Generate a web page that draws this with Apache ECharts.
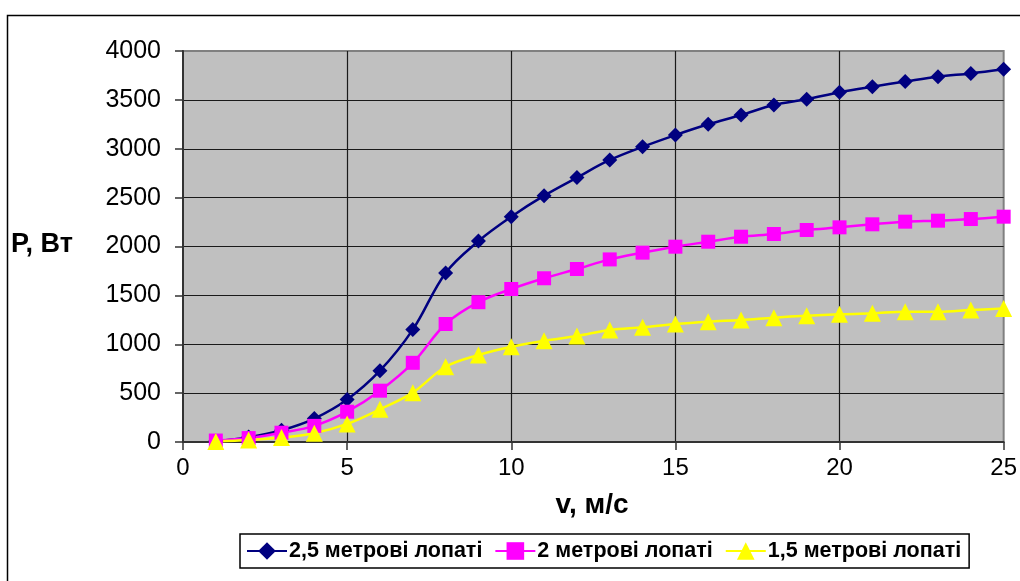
<!DOCTYPE html>
<html>
<head>
<meta charset="utf-8">
<script src="https://cdn.jsdelivr.net/npm/echarts@6/dist/echarts.min.js"></script>
<style>
  html, body { margin: 0; padding: 0; background: #ffffff; }
  #chart { width: 1020px; height: 581px; }
</style>
</head>
<body>
<div id="chart"></div>
<script>
// Wind speed, m/s
const speeds = [1, 2, 3, 4, 5, 6, 7, 8, 9, 10, 11, 12, 13, 14, 15, 16, 17, 18, 19, 20, 21, 22, 23, 24, 25];

// Power output, W, for three blade lengths
const blades25 = [10, 50, 120, 240, 435, 730, 1150, 1730, 2055, 2305, 2520, 2705, 2885, 3020, 3140, 3250, 3345, 3448, 3506, 3578, 3635, 3687, 3737, 3771, 3813];
const blades20 = [15, 40, 95, 165, 310, 525, 810, 1207, 1430, 1565, 1675, 1770, 1868, 1937, 1998, 2049, 2100, 2128, 2169, 2196, 2227, 2254, 2264, 2281, 2305];
const blades15 = [5, 20, 45, 90, 185, 335, 505, 770, 890, 975, 1036, 1084, 1146, 1173, 1207, 1231, 1248, 1272, 1292, 1306, 1316, 1333, 1333, 1350, 1367];

const seriesNames = ['2,5 метрові лопаті', '2 метрові лопаті', '1,5 метрові лопаті'];
const xTitle = 'v, м/с';
const yTitle = 'P, Вт';

const FONT = '"Liberation Sans", Arial, sans-serif';

function pairs(values) {
  return speeds.map((v, i) => [v, values[i]]);
}

function lineSeries(name, values, color, symbol, size) {
  return {
    name: name,
    type: 'line',
    data: pairs(values),
    smooth: 0.35,
    symbol: symbol,
    symbolSize: size,
    showAllSymbol: true,
    lineStyle: { color: color, width: 2.5 },
    itemStyle: { color: color, borderWidth: 0 },
    emphasis: { disabled: true },
    animation: false
  };
}

const chart = echarts.init(document.getElementById('chart'), null, { renderer: 'canvas' });

chart.setOption({
  backgroundColor: '#ffffff',
  animation: false,
  textStyle: { fontFamily: FONT },
  grid: {
    left: 183, right: 15, top: 51, bottom: 139,
    show: true,
    backgroundColor: '#C0C0C0',
    borderColor: '#808080',
    borderWidth: 2
  },
  xAxis: {
    type: 'value',
    min: 0, max: 25, interval: 5,
    axisLine: { show: true, onZero: false, lineStyle: { color: '#333333', width: 2 } },
    axisTick: { show: true, inside: false, length: 8, lineStyle: { color: '#333333', width: 1.5 } },
    axisLabel: { color: '#000000', fontSize: 24, fontFamily: FONT, margin: 14, formatter: v => String(v) },
    splitLine: { show: true, showMinLine: false, showMaxLine: false, lineStyle: { color: '#1a1a1a', width: 1.2 } }
  },
  yAxis: {
    type: 'value',
    min: 0, max: 4000, interval: 500,
    axisLine: { show: true, onZero: false, lineStyle: { color: '#333333', width: 2 } },
    axisTick: { show: true, inside: false, length: 8, lineStyle: { color: '#333333', width: 1.5 } },
    axisLabel: { color: '#000000', fontSize: 25, fontFamily: FONT, margin: 22, formatter: v => String(v) },
    splitLine: { show: true, showMinLine: false, showMaxLine: false, lineStyle: { color: '#1a1a1a', width: 1.2 } }
  },
  legend: {
    left: 240,
    top: 534,
    orient: 'horizontal',
    data: seriesNames,
    itemWidth: 40,
    itemHeight: 22,
    itemGap: 12,
    padding: [6, 8, 6, 6],
    backgroundColor: '#ffffff',
    borderColor: '#000000',
    borderWidth: 1.5,
    borderRadius: 0,
    selectedMode: false,
    textStyle: { color: '#000000', fontSize: 21.5, fontWeight: 'bold', fontFamily: FONT, padding: [0, 0, 0, -3] }
  },
  graphic: [
    {
      type: 'rect',
      shape: { x: 7.5, y: 15.5, width: 1040, height: 620 },
      style: { fill: 'none', stroke: '#000000', lineWidth: 1.5 },
      silent: true,
      z: 100
    },
    {
      type: 'text',
      x: 11,
      y: 245,
      style: { text: yTitle, fill: '#000000', font: 'bold 27px ' + FONT, textAlign: 'left', textVerticalAlign: 'middle' },
      silent: true
    },
    {
      type: 'text',
      x: 592,
      y: 505,
      style: { text: xTitle, fill: '#000000', font: 'bold 28px ' + FONT, textAlign: 'center', textVerticalAlign: 'middle' },
      silent: true
    }
  ],
  series: [
    lineSeries(seriesNames[0], blades25, '#000080', 'diamond', 15),
    lineSeries(seriesNames[1], blades20, '#FF00FF', 'rect', 14),
    lineSeries(seriesNames[2], blades15, '#FFFF00', 'triangle', 17)
  ]
});
</script>
</body>
</html>
